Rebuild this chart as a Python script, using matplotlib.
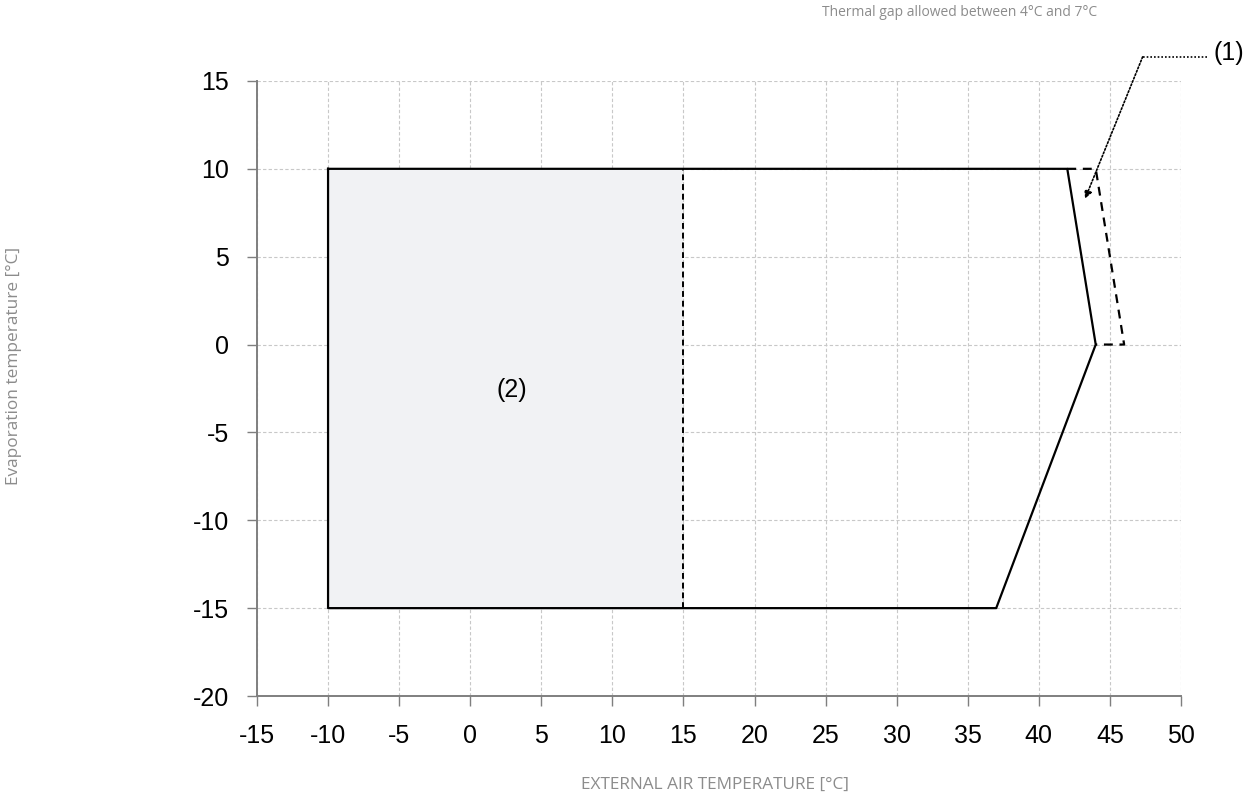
import matplotlib.pyplot as plt

# operating envelope (solid) and extended limit (dashed)
envelope_x = [-10, 42, 44, 37, -10, -10]
envelope_y = [10, 10, 0, -15, -15, 10]
extended_x = [42, 44, 46, 44]
extended_y = [10, 10, 0, 0]
zone_x = [-10, 15]
zone_y = [-15, 10]

x_ticks = list(range(-15, 51, 5))
y_ticks = list(range(-20, 16, 5))

grey = '#7f7f7f'
label_grey = '#8c8c8c'

plt.rcParams['font.family'] = ['Liberation Sans', 'DejaVu Sans']
plt.rcParams['axes.unicode_minus'] = False

fig = plt.figure(figsize=(12.56, 8), dpi=100)
ax = fig.add_axes([0.2046, 0.13, 0.7357, 0.7688])

ax.fill_between(zone_x, zone_y[0], zone_y[1], color='#f1f2f4', zorder=1, lw=0)
ax.plot([zone_x[1], zone_x[1]], zone_y, color='black', lw=1.4, ls=(0, (3, 2)), zorder=3)
ax.plot(envelope_x, envelope_y, color='black', lw=1.6, zorder=3)
ax.plot(extended_x, extended_y, color='black', lw=1.6, ls=(0, (4, 3)), zorder=3)

ax.set_xlim(x_ticks[0], x_ticks[-1])
ax.set_ylim(y_ticks[0], y_ticks[-1])
ax.set_xticks(x_ticks)
ax.set_yticks(y_ticks)
ax.grid(True, color='#c8c8c8', ls=(0, (3, 2)), lw=0.8, zorder=0)
ax.set_axisbelow(True)

for side in ['top', 'right']:
    ax.spines[side].set_visible(False)
for side in ['left', 'bottom']:
    ax.spines[side].set_color(grey)
    ax.spines[side].set_linewidth(1.4)
ax.tick_params(colors=grey, direction='out', length=7, width=1, labelcolor='black',
               labelsize=18, pad=13)

ax.text(2.95, -2.6, '(2)', fontsize=18, ha='center', va='center')

# callout for the thermal gap band
ax.plot([47.3, 52.0], [16.37, 16.37], color='black', lw=1.2, ls=(0, (1, 1.2)), clip_on=False)
ax.annotate('', xy=(43.25, 8.3), xytext=(47.3, 16.37),
            arrowprops=dict(arrowstyle='-|>', color='black', lw=1.2, ls=(0, (1, 1.2)),
                            mutation_scale=11, shrinkA=0, shrinkB=0),
            annotation_clip=False)
ax.text(52.3, 16.6, '(1)', fontsize=18, ha='left', va='center')

fig.text(0.764, 0.985, 'Thermal gap allowed between 4°C and 7°C', fontsize=10,
         color=label_grey, ha='center', va='center', family=['Open Sans', 'DejaVu Sans'])
fig.text(0.011, 0.5425, 'Evaporation temperature [°C]', fontsize=12.4, rotation=90,
         color=label_grey, ha='center', va='center', family=['Open Sans', 'DejaVu Sans'])
fig.text(0.569, 0.019, 'EXTERNAL AIR TEMPERATURE [°C]', fontsize=12.4,
         color=label_grey, ha='center', va='center', family=['Open Sans', 'DejaVu Sans'])

fig.savefig('out.png', dpi=100)
